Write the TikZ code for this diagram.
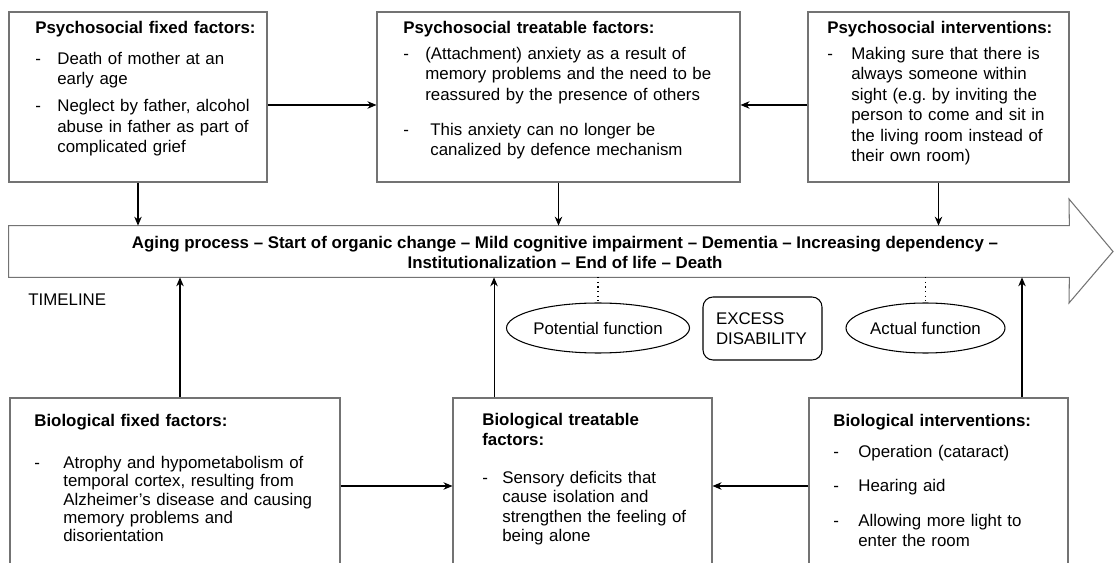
\documentclass[tikz,border=0pt]{standalone}
\usepackage{fontspec}
\setmainfont{Liberation Sans}
\usetikzlibrary{arrows.meta,shapes.geometric,fit}

\newlength{\px}
\setlength{\px}{0.02cm}
\setlength{\parindent}{0pt}
\setlength{\parskip}{0pt}

% bullet line with a hanging dash (break lines with \newline)
\newcommand{\bul}[2][22]{\par\hangindent=#1\px\hangafter=1\noindent\makebox[#1\px][l]{-}#2\par}

\tikzset{
  frame/.style={draw=black!55,line width=0.6pt},
  box/.style={frame,inner sep=0pt},
  boxtext/.style={anchor=north west,inner sep=0pt,text width=8cm,align=left,font=\fontsize{9.6}{11.6}\selectfont},
  fn/.style={ellipse,draw,line width=0.6pt,minimum height=1cm,inner sep=0pt,font=\fontsize{9.6}{11.4}\selectfont},
  link/.style={->,line width=0.6pt}
}

\begin{document}
\begin{tikzpicture}[x=0.02cm,y=-0.02cm,>={Stealth[length=1.8mm,width=1.5mm]}]

\useasboundingbox (0,0) rectangle (1114,563);
\clip (0,0) rectangle (1114,563);

% ============================================================
% 1. PSYCHOSOCIAL ROW (TOP)
% ============================================================

\node[box,fit={(9,12) (267,182)}] (psyfix) {};
\node[box,fit={(377,12) (740,182)}] (psytreat) {};
\node[box,fit={(808,12) (1069,182)}] (psyint) {};

\node[boxtext] (psyfixtxt) at (35,21) {\textbf{Psychosocial fixed factors:}\par\vspace{10.6\px}
  \bul{Death of mother at an\newline early age}\vspace{6.6\px}
  \bul{Neglect by father, alcohol\newline abuse in father as part of\newline complicated grief}};

\node[boxtext] (psytreattxt) at (403,21) {\textbf{Psychosocial treatable factors:}\par\vspace{5.6\px}
  \bul{(Attachment) anxiety as a result of\newline memory problems and the need to be\newline reassured by the presence of others}\vspace{14.6\px}
  \bul[27]{This anxiety can no longer be\newline canalized by defence mechanism}};

\node[boxtext] (psyinttxt) at (827,21) {\textbf{Psychosocial interventions:}\par\vspace{5.6\px}
  \bul[24]{Making sure that there is\newline always someone within\newline sight (e.g.\ by inviting the\newline person to come and sit in\newline the living room instead of\newline their own room)}};

% ============================================================
% 2. TIMELINE ARROW
% ============================================================

\node[fit={(9,226) (1069,277)},inner sep=0pt] (timeline) {};
\draw[frame] (timeline.north west) -- (timeline.north east) -- (1069,199)
  -- (1113,251.5) -- (1069,303) -- (timeline.south east) -- (timeline.south west) -- cycle;

\node[align=center,font=\fontsize{9.6}{11.4}\selectfont\bfseries] (stages) at (565,252)
  {Aging process – Start of organic change – Mild cognitive impairment – Dementia – Increasing dependency –\\
   Institutionalization – End of life – Death};

\node[anchor=west,inner sep=0pt,font=\fontsize{9.6}{11.4}\selectfont] (timelinelbl) at (28,300) {TIMELINE};

% function ellipses and excess disability
\node[fn,minimum width=3.32cm] (potfun) at (598,328) {Potential function};
\node[fn,minimum width=3.18cm] (actfun) at (925.5,328) {Actual function};
\node[draw,line width=0.6pt,rounded corners=0.2cm,minimum width=2.38cm,minimum height=1.26cm,
  text width=1.86cm,inner xsep=0.26cm,align=left,font=\fontsize{9.6}{11.4}\selectfont]
  (excess) at (762.5,328.5) {EXCESS\\DISABILITY};

\draw[dotted,line width=0.6pt] (potfun.north |- timeline.south) -- (potfun.north);
\draw[dotted,line width=0.6pt] (actfun.north |- timeline.south) -- (actfun.north);

% ============================================================
% 3. BIOLOGICAL ROW (BOTTOM)
% ============================================================

\node[box,fit={(10,398) (340,574)}] (biofix) {};
\node[box,fit={(453,398) (712,574)}] (biotreat) {};
\node[box,fit={(809,398) (1068,574)}] (bioint) {};

\node[boxtext,font=\fontsize{9.6}{10.4}\selectfont] (biofixtxt) at (34,414) {\textbf{Biological fixed factors:}\par\vspace{23.7\px}
  \bul[29]{Atrophy and hypometabolism of\newline temporal cortex, resulting from\newline Alzheimer's disease and causing\newline memory problems and\newline disorientation}};

\node[boxtext,font=\fontsize{9.6}{11.1}\selectfont] (biotreattxt) at (482,413) {\textbf{Biological treatable\\factors:}\par\vspace{18.5\px}
  \bul[20]{Sensory deficits that\newline cause isolation and\newline strengthen the feeling of\newline being alone}};

\node[boxtext,font=\fontsize{9.6}{11.4}\selectfont] (biointtxt) at (833,414) {\textbf{Biological interventions:}\par\vspace{11\px}
  \bul[25]{Operation (cataract)}\vspace{14\px}
  \bul[25]{Hearing aid}\vspace{15\px}
  \bul[25]{Allowing more light to\newline enter the room}};

% ============================================================
% 4. CONNECTORS
% ============================================================

\draw[link] ([yshift=-0.16cm]psyfix.east) -- ([yshift=-0.16cm]psytreat.west);
\draw[link] ([yshift=-0.16cm]psyint.west) -- ([yshift=-0.16cm]psytreat.east);

\foreach \b in {psyfix,psytreat,psyint}{
  \draw[link] (\b.south) -- (\b.south |- timeline.north);
}

\draw[link] ([xshift=0.1cm]biofix.north) -- ([xshift=0.1cm]biofix.north |- timeline.south);
\draw[link] ([xshift=-1.77cm]biotreat.north) -- ([xshift=-1.77cm]biotreat.north |- timeline.south);
\draw[link] ([xshift=1.67cm]bioint.north) -- ([xshift=1.67cm]bioint.north |- timeline.south);

\draw[link] (biofix.east) -- (biotreat.west);
\draw[link] (bioint.west) -- (biotreat.east);

\end{tikzpicture}
\end{document}
